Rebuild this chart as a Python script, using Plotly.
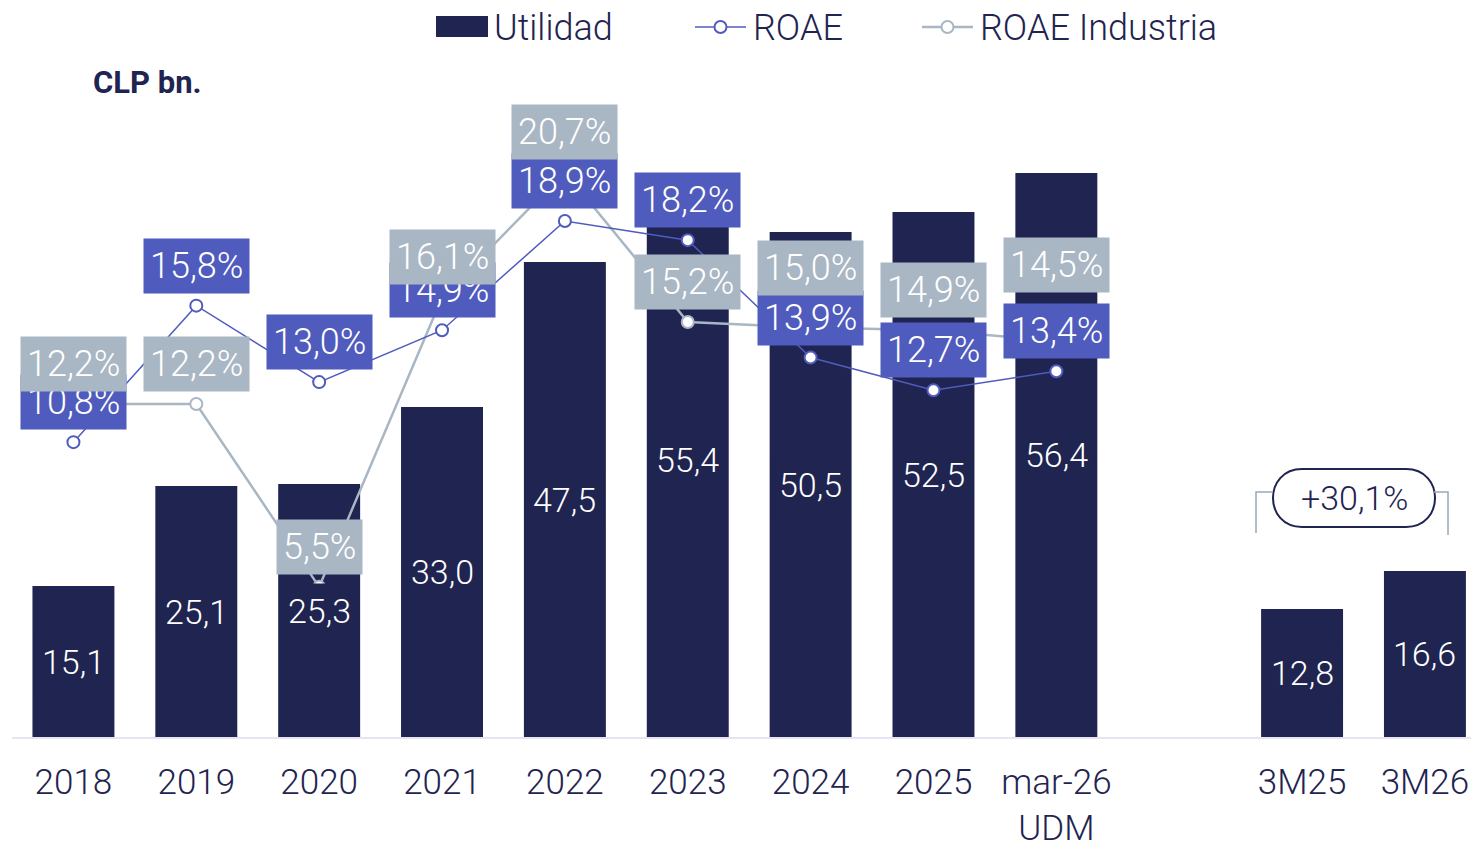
import plotly.graph_objects as go

# ---------------- data ----------------
annual_categories = ["2018", "2019", "2020", "2021", "2022", "2023", "2024", "2025", "mar-26<br>UDM"]
quarter_categories = ["3M25", "3M26"]
utilidad_annual = [15.1, 25.1, 25.3, 33.0, 47.5, 55.4, 50.5, 52.5, 56.4]
utilidad_quarter = [12.8, 16.6]
roae = [10.8, 15.8, 13.0, 14.9, 18.9, 18.2, 13.9, 12.7, 13.4]
roae_industria = [12.2, 12.2, 5.5, 16.1, 20.7, 15.2, 15.0, 14.9, 14.5]
series_names = ["Utilidad", "ROAE", "ROAE Industria"]
growth_text = "+30,1%"
unit_text = "CLP bn."

# ---------------- styling ----------------
NAVY = "#1F2450"
ROAE_C = "#505BBE"
IND_C = "#A9B6C4"
FONT = "Roboto"
BODY = 8                     # default page body margin
W, H = 1479 - BODY, 842 - BODY
PLOT_L, PLOT_R, PLOT_T, PLOT_B = 12, 1479, 100, 737   # target screen px of plot area
M_L, M_R, M_T, M_B = PLOT_L - BODY, 0, PLOT_T - BODY, 842 - PLOT_B
PX_Y1 = 10.0      # px per CLP bn
PX_Y2 = 27.3      # px per ROAE percentage point
plot_w = PLOT_R - PLOT_L
plot_h = PLOT_B - PLOT_T
y1_max = plot_h / PX_Y1
y2_max = plot_h / PX_Y2

# industry label vertical offsets (px) to avoid overlaps
ind_shift = [40, 40, 40, 40, 40, 40, 60, 40, 76]
roae_shift = 40


def px(xp):
    return (xp - PLOT_L) / plot_w


def py(yp):
    return (PLOT_B - yp) / plot_h


def fmt(v):
    return f"{v:.1f}".replace(".", ",")


n_a = len(annual_categories)
x_annual = list(range(n_a))
x_quarter = [n_a + 1 + i for i in range(len(quarter_categories))]
x_all = x_annual + x_quarter
cats_all = annual_categories + quarter_categories
util_all = utilidad_annual + utilidad_quarter

fig = go.Figure()

fig.add_trace(go.Bar(
    x=x_all, y=util_all, name=series_names[0], marker=dict(color=NAVY, line=dict(width=0)),
    width=0.667, yaxis="y", hoverinfo="skip",
))
fig.add_trace(go.Scatter(
    x=x_annual, y=roae_industria, name=series_names[2], mode="lines+markers",
    line=dict(color=IND_C, width=2.5),
    marker=dict(size=12, color="white", line=dict(color=IND_C, width=2)),
    yaxis="y2", hoverinfo="skip",
))
fig.add_trace(go.Scatter(
    x=x_annual, y=roae, name=series_names[1], mode="lines+markers",
    line=dict(color=ROAE_C, width=1.5),
    marker=dict(size=12, color="white", line=dict(color=ROAE_C, width=2)),
    yaxis="y2", hoverinfo="skip",
))

BAR_FONT = dict(family=FONT, size=34, color="white", weight=300)
PCT_FONT = dict(family=FONT, size=36, color="white", weight=300)
annotations = []
# bar value labels
for x, v in zip(x_all, util_all):
    annotations.append(dict(
        x=x, y=v / 2, xref="x", yref="y", text=fmt(v), showarrow=False,
        font=BAR_FONT, bgcolor=NAVY, borderpad=7,
    ))
# ROAE labels
for x, v in zip(x_annual, roae):
    annotations.append(dict(
        x=x, y=v, xref="x", yref="y2", yshift=roae_shift, text=fmt(v) + "%", showarrow=False,
        font=PCT_FONT, bgcolor=ROAE_C, borderpad=6,
    ))
# Industry labels
for x, v, s in zip(x_annual, roae_industria, ind_shift):
    annotations.append(dict(
        x=x, y=v, xref="x", yref="y2", yshift=s, text=fmt(v) + "%", showarrow=False,
        font=PCT_FONT, bgcolor=IND_C, borderpad=6,
    ))
# unit label
annotations.append(dict(
    x=px(91), y=py(82), xref="paper", yref="paper",
    xanchor="left", yanchor="middle", text="<b>" + unit_text + "</b>", showarrow=False,
    font=dict(family=FONT, size=31, color=NAVY),
))

# growth pill
anchor_x = (x_quarter[0] + x_quarter[1]) / 2
anchor_y = max(utilidad_quarter) + 7.3
annotations.append(dict(
    x=anchor_x, y=anchor_y, xref="x", yref="y", xshift=-9.5, text=growth_text, showarrow=False,
    font=dict(family=FONT, size=34, color=NAVY, weight=300),
))

shapes = [
    dict(type="path", xref="x", yref="y", xsizemode="pixel", ysizemode="pixel",
         xanchor=anchor_x, yanchor=anchor_y,
         path="M -107.5,-35 L -107.5,6 L -90.5,6",
         line=dict(color="#9AA8BA", width=1.5), layer="above"),
    dict(type="path", xref="x", yref="y", xsizemode="pixel", ysizemode="pixel",
         xanchor=anchor_x, yanchor=anchor_y,
         path="M 70.5,6 L 84.5,6 L 84.5,-37",
         line=dict(color="#9AA8BA", width=1.5), layer="above"),
    dict(type="path", xref="x", yref="y", xsizemode="pixel", ysizemode="pixel",
         xanchor=anchor_x, yanchor=anchor_y,
         path="M -61.5,29 L 42.5,29 C 81.2,29 81.2,-29 42.5,-29 L -61.5,-29 C -100.2,-29 -100.2,29 -61.5,29 Z",
         line=dict(color=NAVY, width=2), fillcolor="white", layer="below"),
]

# ---- custom legend (drawn in paper space, above the plot) ----
LEG_Y = 28
LEG_FONT = dict(family=FONT, size=36, color=NAVY, weight=300)
# Utilidad swatch
shapes.append(dict(type="rect", xref="paper", yref="paper", x0=px(436), x1=px(488),
                   y0=py(37), y1=py(16), fillcolor=NAVY, line=dict(width=0)))
annotations.append(dict(x=px(492), y=py(LEG_Y), xref="paper", yref="paper", xanchor="left",
                        yanchor="middle", text=series_names[0], showarrow=False, font=LEG_FONT))
for (x0, x1, col, w, name) in [(695, 746, ROAE_C, 1.5, series_names[1]),
                               (922, 973, IND_C, 2.5, series_names[2])]:
    shapes.append(dict(type="line", xref="paper", yref="paper", x0=px(x0), x1=px(x1),
                       y0=py(27), y1=py(27), line=dict(color=col, width=w)))
    shapes.append(dict(type="circle", xref="paper", yref="paper", xsizemode="pixel", ysizemode="pixel",
                       xanchor=px((x0 + x1) / 2), yanchor=py(27), x0=-6, x1=6, y0=-6, y1=6,
                       fillcolor="white", line=dict(color=col, width=2)))
    annotations.append(dict(x=px(x1 + 5), y=py(LEG_Y), xref="paper", yref="paper", xanchor="left",
                            yanchor="middle", text=name, showarrow=False, font=LEG_FONT))

fig.update_layout(
    width=W, height=H,
    margin=dict(l=M_L, r=M_R, t=M_T, b=M_B, autoexpand=False),
    plot_bgcolor="white", paper_bgcolor="white",
    font=dict(family=FONT, color=NAVY),
    showlegend=False,
    xaxis=dict(range=[-0.5, 11.44], tickmode="array", tickvals=x_all, ticktext=cats_all,
               showgrid=False, zeroline=False, showline=True, linecolor="#E4E4F2", linewidth=2,
               ticks="", ticklabelstandoff=13,
               tickfont=dict(family=FONT, size=35, color=NAVY, weight=300)),
    yaxis=dict(range=[0, y1_max], visible=False, showgrid=False, zeroline=False),
    yaxis2=dict(range=[0, y2_max], visible=False, overlaying="y", side="right", showgrid=False, zeroline=False),
    annotations=annotations,
    shapes=shapes,
)

fig.write_html("out.html")
